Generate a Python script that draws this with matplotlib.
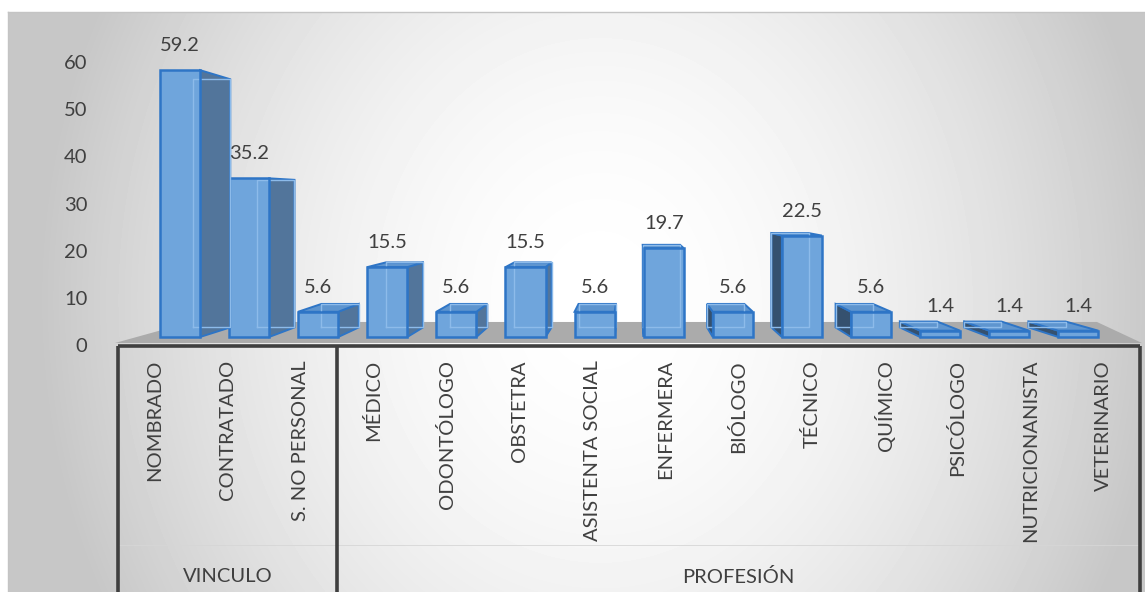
import numpy as np
import matplotlib

matplotlib.use("Agg")
import matplotlib.pyplot as plt
from matplotlib.patches import Polygon

plt.rcParams["font.family"] = ["Lato", "DejaVu Sans"]

# Data
CATEGORIES = [
    "NOMBRADO", "CONTRATADO", "S. NO PERSONAL", "MÉDICO", "ODONTÓLOGO",
    "OBSTETRA", "ASISTENTA SOCIAL", "ENFERMERA", "BIÓLOGO", "TÉCNICO",
    "QUÍMICO", "PSICÓLOGO", "NUTRICIONANISTA", "VETERINARIO",
]
VALUES = [59.2, 35.2, 5.6, 15.5, 5.6, 15.5, 5.6, 19.7, 5.6, 22.5, 5.6, 1.4, 1.4, 1.4]
GROUPS = ["VINCULO", "PROFESIÓN"]
GROUP_SIZES = [3, 11]
Y_TICKS = [0, 10, 20, 30, 40, 50, 60]

# Look of the fake 3D columns
W, H, DPI = 1145, 592, 100
VP = (6.53, 30.76)      # vanishing point (data units)
DEPTH = 0.93            # bar back face scale towards VP
FLOOR_DEPTH = 0.853
BASE = 1.74             # front bottom of bars
SHRINK = 0.955          # front face height per value unit
HALF = 0.29             # half width of bar front
TEXT = "#404040"
FRONT = "#6FA5DC"
EDGE = "#2E75C6"
SIDE_R = "#52759B"
SIDE_L = "#35516F"
TOP = "#5E95CF"
FONT = 14.5


def back(p, k=DEPTH):
    return (VP[0] + (p[0] - VP[0]) * k, VP[1] + (p[1] - VP[1]) * k)


fig = plt.figure(figsize=(W / DPI, H / DPI), dpi=DPI)
fig.patch.set_facecolor("white")

# background gradient panel
bg = fig.add_axes([8 / W, 0, (W - 8) / W, (H - 12) / H])
xx, yy = np.meshgrid(np.arange(8, W), np.arange(12, H))
r = np.clip(((xx - 600) / 560.0) ** 2 + ((yy - 300) / 650.0) ** 2, 0, 1)
grad = 1 - 0.22 * r ** 0.9
bg.imshow(grad, cmap="gray", vmin=0, vmax=1, aspect="auto", extent=(8, W, H, 12))
bg.set_xticks([])
bg.set_yticks([])
for s in ["right", "bottom"]:
    bg.spines[s].set_visible(False)
for s in ["top", "left"]:
    bg.spines[s].set_color("#C4C4C4")
    bg.spines[s].set_linewidth(1.0)

# main bar axes (px 118..1140 horizontally, 12..345 vertically)
ax = fig.add_axes([118 / W, (H - 345.2) / H, 1022 / W, 333.2 / H])
ax.patch.set_visible(False)
ax.set_xlim((118 - 180) / 69.1, (1140 - 180) / 69.1)
ax.set_ylim(0, 333.2 / 4.72)
for s in ax.spines.values():
    s.set_visible(False)
ax.set_xticks([])
ax.set_yticks(Y_TICKS)
ax.set_yticklabels([str(t) for t in Y_TICKS], fontsize=FONT, color=TEXT)
ax.tick_params(axis="y", length=0, pad=22)

# floor (right back corner sits a bit further out than the bar perspective)
fl, fr, fy = -0.94, 13.92, 0.47
bl = back((fl, fy), FLOOR_DEPTH)
br = back((fr, fy), FLOOR_DEPTH)
floor = [(fl, fy), (fr, fy), (13.27, br[1]), bl]
ax.add_patch(Polygon(floor, closed=True, facecolor="#ABABAB", edgecolor="none",
                     zorder=1, clip_on=False))

# bars
for i, v in enumerate(VALUES):
    x0, x1 = i - HALF, i + HALF
    y0, y1 = BASE, BASE + v * SHRINK
    fbl, fbr, ftr, ftl = (x0, y0), (x1, y0), (x1, y1), (x0, y1)
    bbl, bbr, btr, btl = back(fbl), back(fbr), back(ftr), back(ftl)
    z = 2 + abs(i - VP[0]) * 0.01
    if x1 < VP[0]:
        ax.add_patch(Polygon([fbr, ftr, btr, bbr], closed=True, facecolor=SIDE_R,
                             edgecolor=EDGE, lw=1.4, zorder=z, clip_on=False))
    if x0 > VP[0]:
        ax.add_patch(Polygon([fbl, ftl, btl, bbl], closed=True, facecolor=SIDE_L,
                             edgecolor=EDGE, lw=1.4, zorder=z, clip_on=False))
    if y1 < VP[1]:
        ax.add_patch(Polygon([ftl, ftr, btr, btl], closed=True, facecolor=TOP,
                             edgecolor=EDGE, lw=1.4, zorder=z, clip_on=False))
    ax.add_patch(Polygon([fbl, fbr, ftr, ftl], closed=True, facecolor=FRONT,
                         edgecolor="none", zorder=z + 0.001, clip_on=False))
    # hidden back edges showing through the glassy front
    ax.plot([bbl[0], bbr[0], btr[0], btl[0], bbl[0]],
            [bbl[1], bbr[1], btr[1], btl[1], bbl[1]],
            color="#8DBBEA", lw=1.0, zorder=z + 0.002, clip_on=False)
    ax.add_patch(Polygon([fbl, fbr, ftr, ftl], closed=True, facecolor="none",
                         edgecolor=EDGE, lw=1.8, zorder=z + 0.003, clip_on=False))
    ax.text(i, y1 + 5.2, f"{v:.1f}", ha="center", va="center",
            fontsize=FONT, color=TEXT, zorder=10)

# category table under the floor
tb = fig.add_axes([118 / W, 0, 1022 / W, 246 / H])
tb.patch.set_visible(False)
n = len(CATEGORIES)
tb.set_xlim(0, n)
tb.set_ylim(246, 0)
tb.axis("off")
tb.plot([0, n], [0, 0], color="#3F3F3F", lw=2.6, solid_capstyle="butt", clip_on=False)
tb.plot([0, n], [199, 199], color="#D6D6D6", lw=0.6, clip_on=False)
edges = np.concatenate([[0], np.cumsum(GROUP_SIZES)])
for e in edges:
    tb.plot([e, e], [0, 246], color="#3F3F3F", lw=2.6, solid_capstyle="butt", clip_on=False)
for i, c in enumerate(CATEGORIES):
    tb.text(i + 0.5, 14, c, rotation=90, ha="center", va="top",
            fontsize=FONT, color=TEXT)
for g, a, b in zip(GROUPS, edges[:-1], edges[1:]):
    tb.text((a + b) / 2, 231, g, ha="center", va="center", fontsize=FONT, color=TEXT)

fig.savefig("out.png", dpi=DPI)
